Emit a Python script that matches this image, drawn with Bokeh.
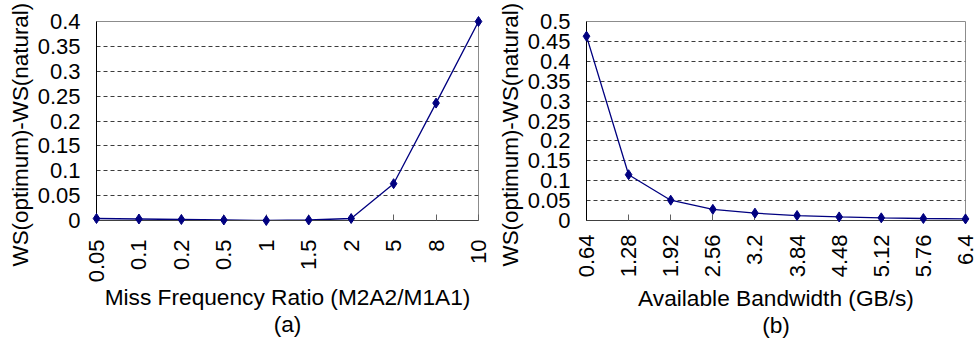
from math import pi
from bokeh.plotting import figure
from bokeh.layouts import row
from bokeh.models import Range1d, FixedTicker, Title
from bokeh.embed import file_html
from bokeh.resources import INLINE

# ---- data ----
ratio_labels = ["0.05", "0.1", "0.2", "0.5", "1", "1.5", "2", "5", "8", "10"]
ratio_ws = [0.004, 0.003, 0.002, 0.001, 0.0, 0.001, 0.004, 0.074, 0.236, 0.4]

bw_labels = ["0.64", "1.28", "1.92", "2.56", "3.2", "3.84", "4.48", "5.12", "5.76", "6.4"]
bw_ws = [0.463, 0.115, 0.051, 0.028, 0.0185, 0.0125, 0.009, 0.0067, 0.005, 0.004]

y_ticks_a = [0, 0.05, 0.1, 0.15, 0.2, 0.25, 0.3, 0.35, 0.4]
y_labels_a = ["0", "0.05", "0.1", "0.15", "0.2", "0.25", "0.3", "0.35", "0.4"]
y_ticks_b = [0, 0.05, 0.1, 0.15, 0.2, 0.25, 0.3, 0.35, 0.4, 0.45, 0.5]
y_labels_b = ["0", "0.05", "0.1", "0.15", "0.2", "0.25", "0.3", "0.35", "0.4", "0.45", "0.5"]

y_title = "WS(optimum)-WS(natural)"
x_title_a = "Miss Frequency Ratio (M2A2/M1A1)"
x_title_b = "Available Bandwidth (GB/s)"
sub_a = "(a)"
sub_b = "(b)"

FONT = "Liberation Sans"
FS = "22px"
FS_T = "22.7px"


def make(width, labels, values, yticks, ylabels, ymax, xtitle, sub,
         left, right, tick_standoff, xlab_standoff, ytitle_offset):
    n = len(labels)
    xs = list(range(n))
    p = figure(width=width, height=341, output_backend="svg", toolbar_location=None,
               x_range=Range1d(0, n - 1), y_range=Range1d(0, ymax),
               min_border_left=left, min_border_right=right,
               min_border_top=21, min_border_bottom=119)
    p.background_fill_color = "white"
    p.border_fill_color = "white"
    p.outline_line_color = "#8c8c8c"
    p.outline_line_width = 1

    p.xgrid.visible = False
    p.ygrid.ticker = FixedTicker(ticks=yticks[1:-1])
    p.ygrid.grid_line_color = "#3c3c3c"
    p.ygrid.grid_line_dash = "4 3"
    p.ygrid.grid_line_width = 1

    p.line(xs, values, line_color="#000080", line_width=1.3)
    p.scatter(xs, values, marker="diamond", size=10, fill_color="#000080",
              line_color="#000080", level="overlay")

    xa = p.xaxis[0]
    xa.ticker = FixedTicker(ticks=xs)
    xa.major_label_overrides = {i: lab for i, lab in enumerate(labels)}
    xa.major_label_orientation = pi / 2
    xa.major_tick_in = 6
    xa.major_tick_out = 0
    xa.major_tick_line_color = "#606060"
    xa.minor_tick_line_color = None
    xa.axis_line_color = "#404040"
    xa.major_label_standoff = tick_standoff
    xa.major_label_text_font = FONT
    xa.major_label_text_font_size = FS
    xa.major_label_text_color = "black"
    xa.axis_label = xtitle + "\n" + sub
    xa.axis_label_text_font = FONT
    xa.axis_label_text_font_size = FS_T
    xa.axis_label_text_font_style = "normal"
    xa.axis_label_text_color = "black"
    xa.axis_label_text_align = "center"
    xa.axis_label_text_line_height = 1.035
    xa.axis_label_standoff = xlab_standoff

    ya = p.yaxis[0]
    ya.ticker = FixedTicker(ticks=yticks)
    ya.major_label_overrides = {t: lab for t, lab in zip(yticks, ylabels)}
    ya.major_tick_in = 0
    ya.major_tick_out = 0
    ya.minor_tick_line_color = None
    ya.axis_line_color = "black"
    ya.major_label_standoff = 16
    ya.major_label_text_font = FONT
    ya.major_label_text_font_size = FS
    ya.major_label_text_color = "black"

    p.add_layout(Title(text=y_title, align="left", offset=ytitle_offset,
                       vertical_align="middle", text_font=FONT, text_font_size="22.4px",
                       text_font_style="normal", text_color="black", standoff=2), "left")
    return p


pa = make(492, ratio_labels, ratio_ws, y_ticks_a, y_labels_a, 0.4, x_title_a, sub_a,
          96, 14, 19, -1, -46)
pb = make(485, bw_labels, bw_ws, y_ticks_b, y_labels_b, 0.5, x_title_b, sub_b,
          94, 12, 14, 5, -46)

layout = row(pa, pb, spacing=0)
open("out.html", "w").write(file_html(layout, INLINE))
